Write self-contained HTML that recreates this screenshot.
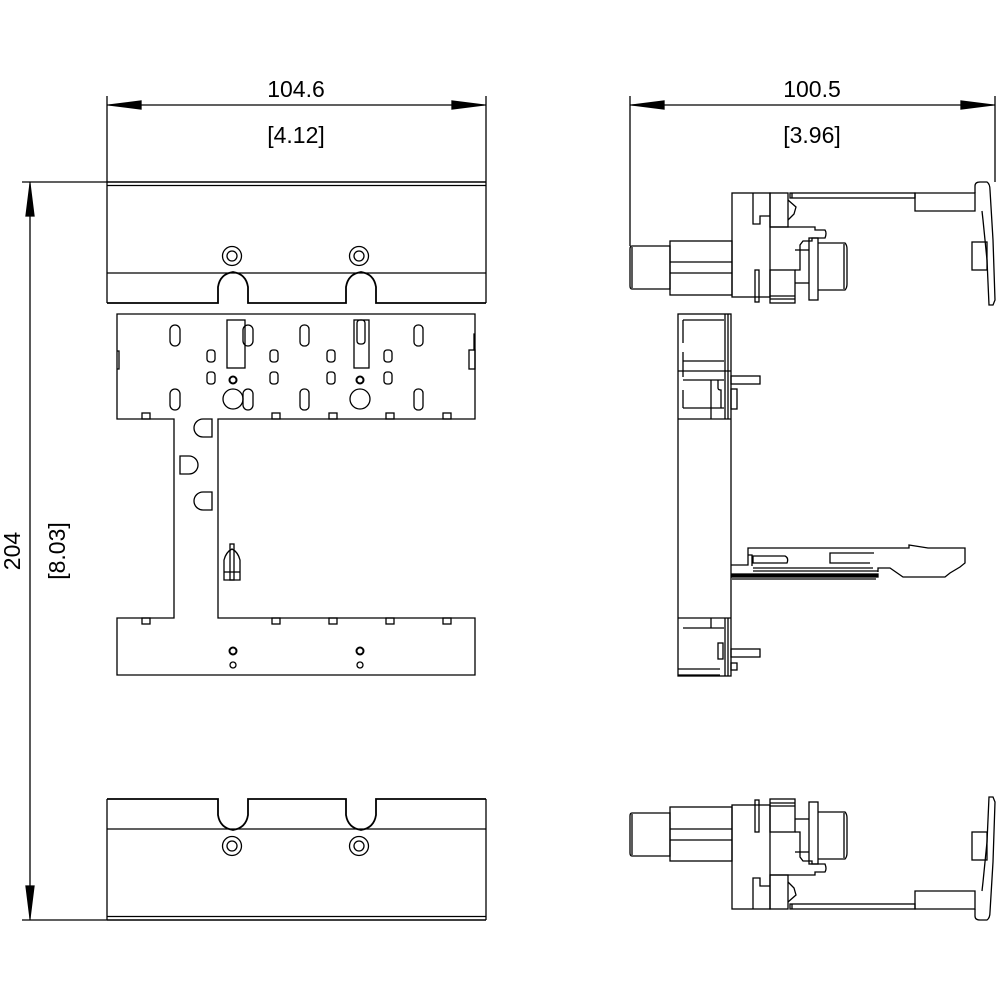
<!DOCTYPE html>
<html><head><meta charset="utf-8"><style>
html,body{margin:0;padding:0;background:#fff;}
svg{display:block;}
text{font-family:"Liberation Sans",sans-serif;font-size:23px;fill:#000;font-weight:normal;}
</style></head><body>
<svg width="1000" height="1000" viewBox="0 0 1000 1000" xmlns="http://www.w3.org/2000/svg" fill="none" stroke="#000" stroke-width="1.3">
<defs>
<g id="lefttop">
  <line x1="107" y1="182" x2="486" y2="182" stroke-width="1.6"/>
  <line x1="107" y1="185.5" x2="486" y2="185.5"/>
  <line x1="107" y1="182" x2="107" y2="303"/>
  <line x1="486" y1="182" x2="486" y2="303"/>
  <line x1="107" y1="273" x2="486" y2="273"/>
  <path d="M107 303 H218 V287 Q220 274 233 272 Q246 274 248 287 V303 H346 V287 Q348 274 361 272 Q374 274 376 287 V303 H486" stroke-width="1.8"/>
  <circle cx="232" cy="256" r="9.5"/><circle cx="232" cy="256" r="5"/>
  <circle cx="359" cy="256" r="9.5"/><circle cx="359" cy="256" r="5"/>
</g>
<g id="righttop">
  <path d="M632 246 H670 V289 H632 Q630 289 630 286 V249 Q630 246 632 246 Z"/>
  <line x1="632" y1="247" x2="632" y2="288"/>
  <rect x="670" y="241" width="62" height="54"/>
  <line x1="670" y1="262" x2="732" y2="262"/><line x1="670" y1="273" x2="732" y2="273"/>
  <rect x="732" y="193" width="38" height="104"/>
  <path d="M753 193 V224 H760 V216 H770"/>
  <rect x="770" y="193" width="18" height="34"/>
  <path d="M788 200 L796 207 L794 214 L788 220"/>
  <rect x="790" y="193" width="125" height="5"/>
  <line x1="792" y1="193" x2="792" y2="198"/>
  <path d="M915 193 H975 V211 H915 Z"/>
  <path d="M975 193 V186 Q975 182 980 182 H987 Q990 184 990 190 L993 240 L995 300 L993 305 H989 L987 260 L983 220 L982 211"/>
  <rect x="972" y="242" width="15" height="28"/>
  <path d="M770 227 H815 V230 L825 230 Q827 233 825 238 H812 V241 H803 L800 245 V270 H795"/>
  <rect x="809" y="238" width="9" height="62"/>
  <path d="M818 243 H845 Q847 245 847 249 V284 Q847 288 845 290 H818"/>
  <line x1="844" y1="244" x2="844" y2="289"/>
  <line x1="795" y1="250" x2="809" y2="250"/>
  <rect x="770" y="270" width="25" height="33"/>
  <line x1="770" y1="296" x2="795" y2="296"/><line x1="770" y1="299" x2="795" y2="299"/>
  <line x1="795" y1="283" x2="809" y2="283"/>
  <rect x="755" y="270" width="4" height="32"/>
</g>
</defs>

<line x1="107" y1="96" x2="107" y2="182"/>
<line x1="486" y1="96" x2="486" y2="182"/>
<line x1="107" y1="105" x2="486" y2="105"/>
<path d="M109 105 L141 101 L141 109 Z" fill="#000"/>
<path d="M484 105 L452 101 L452 109 Z" fill="#000"/>
<text x="296" y="97" text-anchor="middle" stroke="none">104.6</text>
<text x="296" y="143" text-anchor="middle" stroke="none">[4.12]</text>

<line x1="630" y1="96" x2="630" y2="246"/>
<line x1="995" y1="96" x2="995" y2="182"/>
<line x1="630" y1="105" x2="995" y2="105"/>
<path d="M632 105 L664 101 L664 109 Z" fill="#000"/>
<path d="M993 105 L961 101 L961 109 Z" fill="#000"/>
<text x="812" y="97" text-anchor="middle" stroke="none">100.5</text>
<text x="812" y="143" text-anchor="middle" stroke="none">[3.96]</text>

<line x1="22" y1="182" x2="107" y2="182"/>
<line x1="22" y1="920" x2="107" y2="920"/>
<line x1="30" y1="182" x2="30" y2="920"/>
<path d="M30 184 L26 216 L34 216 Z" fill="#000"/>
<path d="M30 918 L26 886 L34 886 Z" fill="#000"/>
<text transform="translate(20,551) rotate(-90)" text-anchor="middle" stroke="none">204</text>
<text transform="translate(65,551) rotate(-90)" text-anchor="middle" stroke="none">[8.03]</text>

<use href="#lefttop"/>
<use href="#lefttop" transform="translate(0,1102) scale(1,-1)"/>

<path d="M117 314 H475 V419 H218 V618 H475 V675 H117 V618 H174 V419 H117 Z"/>
<path d="M117 351 H119 V369 H117"/>
<path d="M475 334 H474 V350 H475"/>
<rect x="469" y="350" width="6" height="19"/>
<g>
 <rect x="170" y="325" width="10" height="21" rx="5"/>
 <rect x="170" y="389" width="10" height="21" rx="5"/>
 <rect x="227" y="320" width="18" height="48"/>
 <rect x="243" y="325" width="10" height="21" rx="5"/>
 <rect x="243" y="389" width="10" height="21" rx="5"/>
 <rect x="207" y="350" width="8" height="12" rx="3"/>
 <rect x="207" y="372" width="8" height="12" rx="3"/>
 <circle cx="233" cy="380" r="3.5" stroke-width="2"/>
 <circle cx="233" cy="399" r="10"/>
 <rect x="270" y="350" width="8" height="12" rx="3"/>
 <rect x="270" y="372" width="8" height="12" rx="3"/>
 <rect x="300" y="325" width="9" height="21" rx="4"/>
 <rect x="300" y="389" width="9" height="21" rx="4"/>
 <rect x="327" y="350" width="8" height="12" rx="3"/>
 <rect x="327" y="372" width="8" height="12" rx="3"/>
 <rect x="354" y="320" width="15" height="48"/>
 <rect x="357" y="320" width="8" height="24" rx="3"/>
 <circle cx="360" cy="380" r="3.5" stroke-width="2"/>
 <circle cx="360" cy="399" r="10"/>
 <rect x="384" y="350" width="8" height="12" rx="3"/>
 <rect x="384" y="372" width="8" height="12" rx="3"/>
 <rect x="414" y="325" width="9" height="21" rx="4"/>
 <rect x="414" y="389" width="9" height="21" rx="4"/>
 <rect x="142" y="413" width="8" height="6"/>
 <rect x="272" y="413" width="8" height="6"/>
 <rect x="329" y="413" width="8" height="6"/>
 <rect x="386" y="413" width="8" height="6"/>
 <rect x="443" y="413" width="8" height="6"/>
 <rect x="142" y="618" width="8" height="6"/>
 <rect x="272" y="618" width="8" height="6"/>
 <rect x="329" y="618" width="8" height="6"/>
 <rect x="386" y="618" width="8" height="6"/>
 <rect x="443" y="618" width="8" height="6"/>
 <path d="M212 419 H203 A9 9 0 0 0 203 437 H212 Z"/>
 <path d="M180 456 H189 A9 9 0 0 1 189 474 H180 Z"/>
 <path d="M212 492 H203 A9 9 0 0 0 203 510 H212 Z"/>
 <path d="M224 580 V560 Q226 552 232 549 Q238 552 240 560 V580 Z"/>
 <rect x="230" y="544" width="4" height="36"/>
 <line x1="224" y1="572" x2="240" y2="572"/>
 <circle cx="233" cy="651" r="3.5" stroke-width="2"/>
 <circle cx="233" cy="665" r="3"/>
 <circle cx="360" cy="651" r="3.5" stroke-width="2"/>
 <circle cx="360" cy="665" r="3"/>
</g>

<use href="#righttop"/>
<use href="#righttop" transform="translate(0,1102) scale(1,-1)"/>

<g>
 <rect x="678" y="314" width="53" height="362"/>
 <line x1="725" y1="314" x2="725" y2="419"/><line x1="728" y1="314" x2="728" y2="419"/>
 <line x1="725" y1="618" x2="725" y2="676"/><line x1="728" y1="618" x2="728" y2="676"/>
 <line x1="678" y1="419" x2="731" y2="419"/>
 <line x1="678" y1="618" x2="731" y2="618"/>
 <line x1="683" y1="320" x2="724" y2="320"/>
 <line x1="683" y1="320" x2="683" y2="343"/>
 <line x1="683" y1="361" x2="724" y2="361"/>
 <line x1="683" y1="352" x2="683" y2="377"/>
 <line x1="678" y1="371" x2="731" y2="371"/>
 <line x1="683" y1="380" x2="724" y2="380"/>
 <line x1="683" y1="390" x2="683" y2="408"/>
 <line x1="683" y1="408" x2="724" y2="408"/>
 <line x1="711" y1="380" x2="711" y2="419"/>
 <path d="M718 380 V388 Q718 390 721 390 V408"/>
 <rect x="731" y="376" width="29" height="8"/>
 <rect x="731" y="389" width="6" height="20"/>
 <line x1="683" y1="628" x2="724" y2="628"/>
 <line x1="711" y1="618" x2="711" y2="628"/>
 <rect x="731" y="649" width="29" height="8"/>
 <rect x="718" y="643" width="5" height="16"/>
 <rect x="731" y="663" width="6" height="7"/>
 <line x1="678" y1="675" x2="720" y2="675"/>
 <line x1="678" y1="669" x2="720" y2="669"/>
 <path d="M731 565 H748 V548 H909 V545 L928 548 H965 V563 L960 567 L950 573 L945 577 H903 L890 568 H878 V572"/>
 <path d="M748 555 H752 V566"/>
 <path d="M753 556 H785 Q789 558 787 563 H753 V556 Z"/>
 <path d="M874 553 H830 V563 H870"/>
 <path d="M753 568 H873 M753 571 H878"/>
 <rect x="732" y="574" width="146" height="3" fill="#000"/>
 <line x1="732" y1="579" x2="876" y2="579"/>
</g>
</svg>
</body></html>
